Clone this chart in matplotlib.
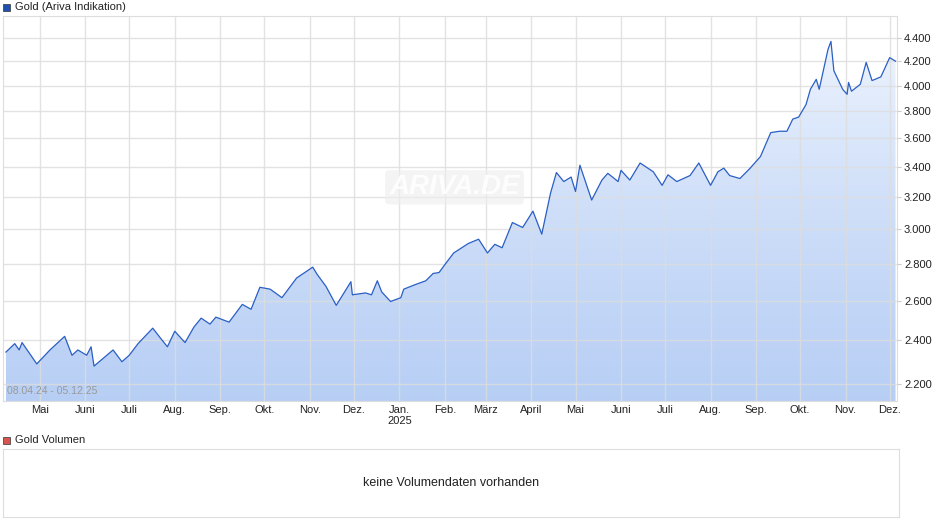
import matplotlib
matplotlib.use("Agg")
import matplotlib.pyplot as plt
import matplotlib.dates as mdates
import numpy as np
import pandas as pd
from matplotlib.patches import Rectangle
from matplotlib.ticker import NullLocator

plt.rcParams['font.family'] = ['Liberation Sans', 'DejaVu Sans']

dates = ["2024-04-08","2024-04-14","2024-04-17","2024-04-19","2024-04-29","2024-05-08","2024-05-18","2024-05-23",
"2024-05-27","2024-06-02","2024-06-05","2024-06-07","2024-06-20","2024-06-26","2024-07-01","2024-07-07",
"2024-07-17","2024-07-23","2024-07-27","2024-08-01","2024-08-08","2024-08-14","2024-08-19","2024-08-25",
"2024-08-29","2024-09-07","2024-09-16","2024-09-22","2024-09-28","2024-10-05","2024-10-13","2024-10-23",
"2024-11-03","2024-11-06","2024-11-12","2024-11-19","2024-11-29","2024-11-30","2024-12-09","2024-12-13",
"2024-12-17","2024-12-20","2024-12-26","2025-01-02","2025-01-04","2025-01-12","2025-01-19","2025-01-24",
"2025-01-28","2025-02-02","2025-02-07","2025-02-17","2025-02-24","2025-03-02","2025-03-07","2025-03-12",
"2025-03-19","2025-03-26","2025-04-02","2025-04-08","2025-04-14","2025-04-18","2025-04-23","2025-04-28",
"2025-05-01","2025-05-04","2025-05-12","2025-05-19","2025-05-23","2025-05-30","2025-06-01","2025-06-07",
"2025-06-14","2025-06-23","2025-06-29","2025-07-03","2025-07-09","2025-07-18","2025-07-24","2025-08-01",
"2025-08-06","2025-08-10","2025-08-14","2025-08-21","2025-08-28","2025-09-04","2025-09-11","2025-09-17",
"2025-09-22","2025-09-26","2025-09-30","2025-10-05","2025-10-08","2025-10-12","2025-10-14","2025-10-20",
"2025-10-22","2025-10-24","2025-10-30","2025-11-02","2025-11-03","2025-11-05","2025-11-11","2025-11-15",
"2025-11-19","2025-11-25","2025-12-01","2025-12-05"]
prices = [2345,2385,2355,2390,2290,2355,2420,2330,
2355,2330,2370,2280,2355,2300,2330,2385,
2460,2405,2370,2445,2390,2465,2510,2480,
2515,2490,2580,2555,2670,2660,2615,2720,
2780,2740,2675,2575,2700,2630,2640,2630,
2705,2645,2595,2615,2660,2685,2705,2745,
2750,2805,2860,2915,2940,2860,2910,2890,
3040,3010,3110,2970,3225,3360,3300,3330,
3235,3410,3180,3310,3355,3300,3375,3310,
3425,3365,3275,3345,3300,3340,3425,3275,
3365,3390,3340,3320,3390,3470,3640,3650,
3650,3740,3755,3850,3970,4050,3970,4300,
4370,4120,3970,3930,4025,3955,4010,4190,
4040,4070,4230,4200]
yticks = [2200,2400,2600,2800,3000,3200,3400,3600,3800,4000,4200,4400]
months = ["Mai","Juni","Juli","Aug.","Sep.","Okt.","Nov.","Dez.","Jan.","Feb.","März","April",
          "Mai","Juni","Juli","Aug.","Sep.","Okt.","Nov.","Dez."]
month_starts = pd.date_range("2024-05-01", "2025-12-01", freq="MS")

x = mdates.date2num(pd.to_datetime(dates))
y = np.array(prices, dtype=float)

fig = plt.figure(figsize=(9.4, 5.26), dpi=100)
W, H = 940, 526
ax = fig.add_axes([3/W, (H-401)/H, 894/W, 385/H])
ax.set_yscale('log')
x0 = mdates.date2num(pd.Timestamp("2024-04-06"))
x1 = mdates.date2num(pd.Timestamp("2025-12-06"))
ymin, ymax = 2126, 4598
ax.set_xlim(x0, x1)
ax.set_ylim(ymin, ymax)

grad = np.linspace(0, 1, 256).reshape(-1, 1)
c_bot = np.array([0.72, 0.81, 0.96]); c_top = np.array([0.95, 0.97, 1.0])
img = c_bot + (c_top - c_bot) * grad
im = ax.imshow(img[:, None, :].repeat(2, axis=1), extent=[x0, x1, ymin, ymax], origin='lower',
               aspect='auto', zorder=1)
poly = ax.fill_between(x, y, ymin, color='none')
im.set_clip_path(poly.get_paths()[0], transform=ax.transData)
ax.plot(x, y, color='#2a5fc4', lw=0.9, zorder=3)

ax.set_yticks(yticks)
ax.yaxis.set_minor_locator(NullLocator())
ax.set_yticklabels([f"{v:,}".replace(",", ".") for v in yticks])
ax.yaxis.tick_right()
ax.set_xticks(mdates.date2num(month_starts))
ax.set_xticklabels([m if m != "Jan." else "Jan.\n2025" for m in months], va='top', linespacing=1.1)
ax.tick_params(axis='both', labelsize=8, length=3, color='#cccccc', labelcolor='#222222', pad=2)
ax.tick_params(axis='x', length=0, pad=3)
ax.grid(True, color='#dddddd', lw=1)
for g in ax.get_xgridlines() + ax.get_ygridlines():
    g.set_zorder(1.5); g.set_alpha(0.8)
for s in ax.spines.values():
    s.set_color('#dddddd')

ax.text(0.005, 0.018, "08.04.24 - 05.12.25", transform=ax.transAxes, fontsize=7.5, color='#999999', zorder=5)
ax.text(0.505, 0.555, "ARIVA.DE", transform=ax.transAxes, fontsize=20, color='white', alpha=0.9,
        fontstyle='italic', fontweight='bold', ha='center', va='center', zorder=4,
        bbox=dict(boxstyle='round,pad=0.15', fc='#eeeeee', ec='none', alpha=0.6))

fig.patches.append(Rectangle((3/W, (H-11)/H), 7/W, 7/H, transform=fig.transFigure, fc='#1f4fb0', ec='#333333', lw=0.5))
fig.text(15/W, (H-7)/H, "Gold (Ariva Indikation)", fontsize=8, va='center', color='#222222')
fig.patches.append(Rectangle((3/W, (H-444)/H), 7/W, 7/H, transform=fig.transFigure, fc='#d9534f', ec='#333333', lw=0.5))
fig.text(15/W, (H-440)/H, "Gold Volumen", fontsize=8, va='center', color='#222222')

ax2 = fig.add_axes([3/W, (H-517)/H, 896/W, 68/H])
ax2.set_xticks([]); ax2.set_yticks([])
for s in ax2.spines.values():
    s.set_color('#dddddd')
ax2.text(0.5, 0.5, "keine Volumendaten vorhanden", ha='center', va='center', fontsize=9, color='#222222')

fig.savefig("out.png", dpi=100)
